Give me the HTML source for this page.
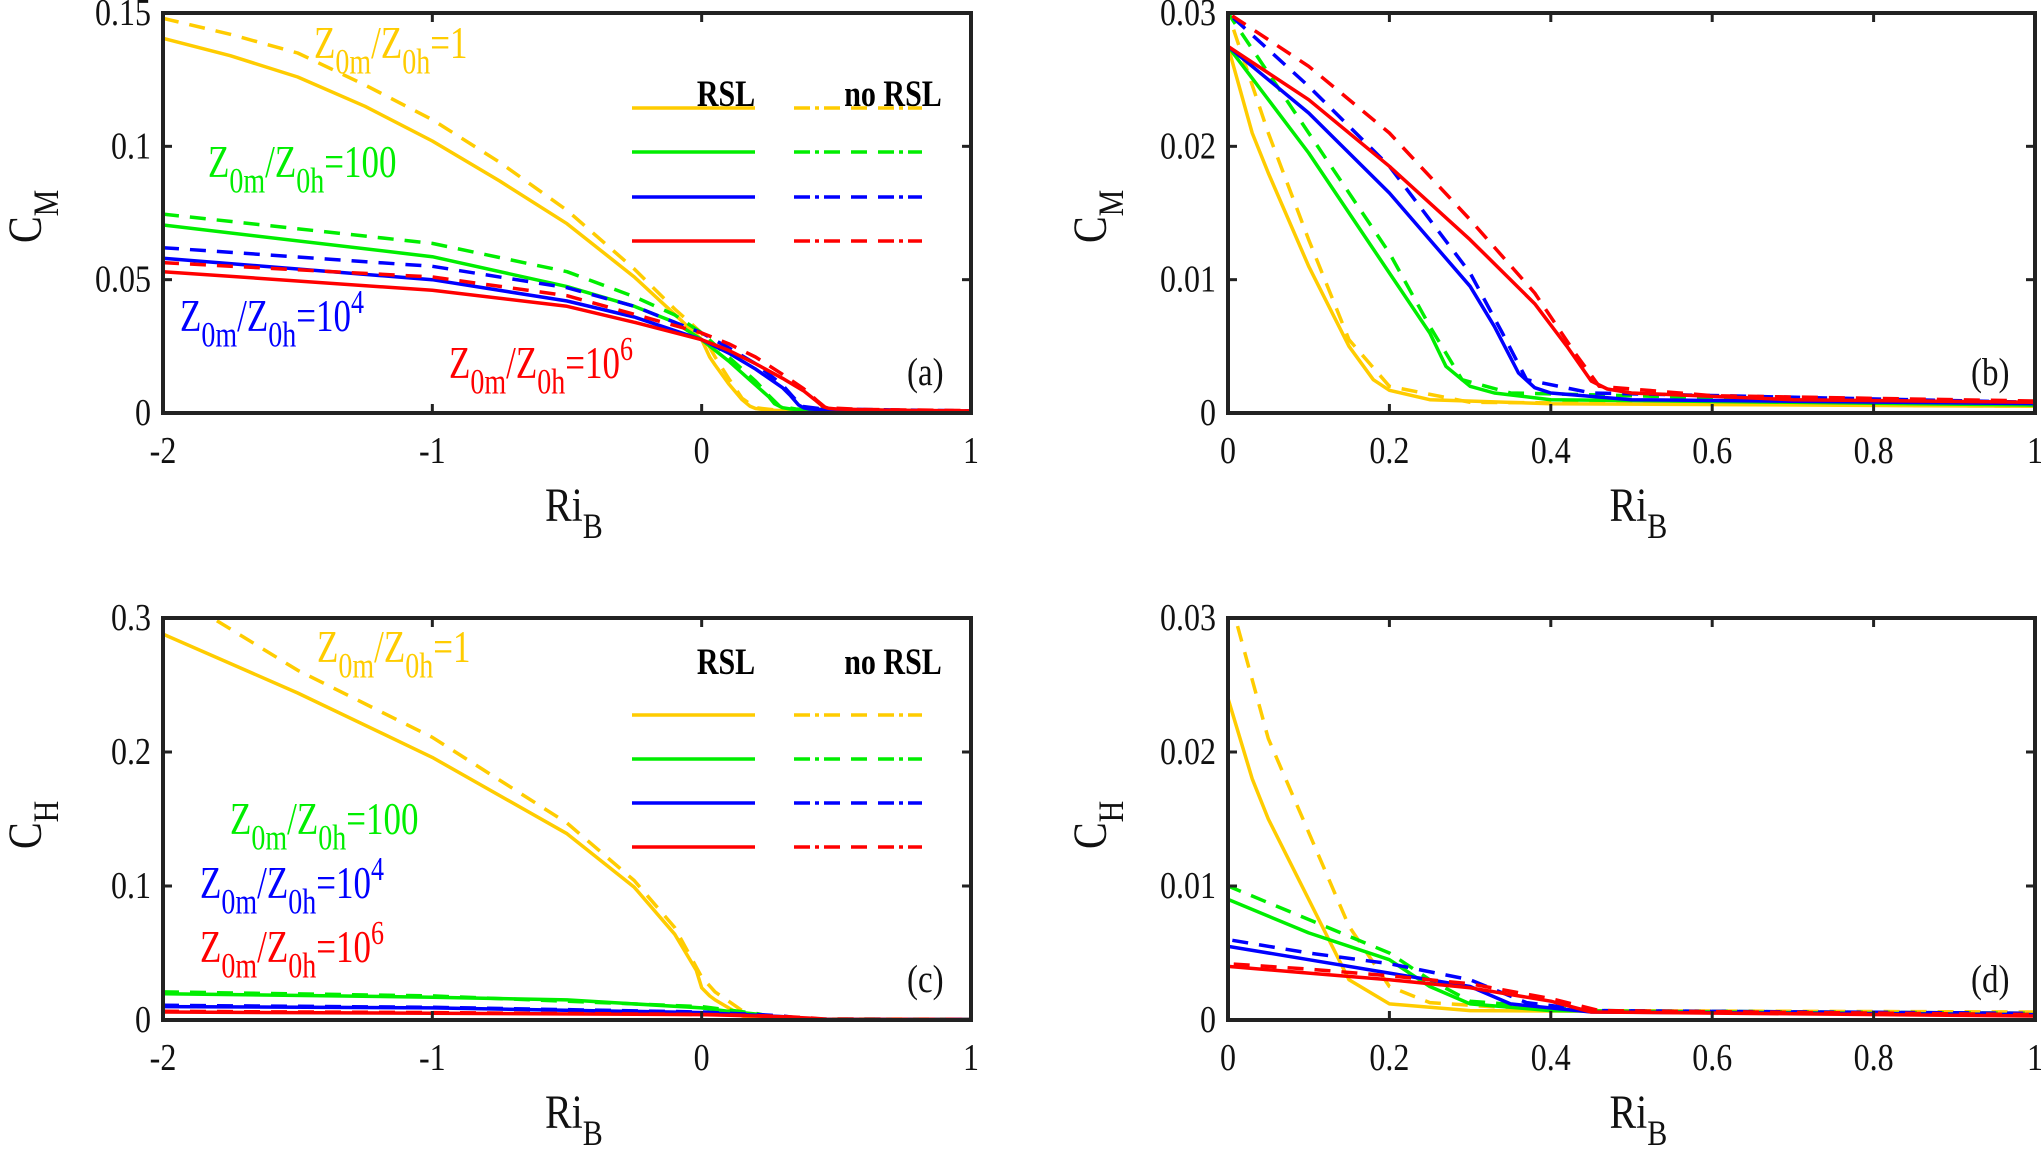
<!DOCTYPE html>
<html><head><meta charset="utf-8"><style>
html,body{margin:0;padding:0;background:#fff}
svg{display:block;font-family:"Liberation Serif",serif}
</style></head><body>
<svg id="fig" width="2041" height="1153" viewBox="0 0 2041 1153" xmlns="http://www.w3.org/2000/svg"></svg>
<script>
// ---- data ----
const seriesNames = ['r1','r100','r1e4','r1e6'];
const seriesColors = ['#FFCC00','#00EE00','#0000FF','#FF0000'];
// C_M, RSL (solid)
const cmSolidX = [
 [-2,-1.75,-1.5,-1.25,-1,-0.75,-0.5,-0.25,-0.1,0,0.03,0.05,0.1,0.15,0.18,0.2,0.25,0.4,1],
 [-2,-1,-0.5,-0.25,-0.1,0,0.1,0.2,0.25,0.27,0.3,0.33,0.4,1],
 [-2,-1,-0.5,-0.25,0,0.1,0.2,0.3,0.33,0.36,0.38,0.4,0.5,1],
 [-2,-1,-0.5,-0.25,0,0.1,0.2,0.3,0.38,0.42,0.45,0.47,0.5,0.7,1]];
const cmSolidY = [
 [0.1405,0.134,0.126,0.115,0.102,0.087,0.071,0.051,0.037,0.0275,0.021,0.018,0.011,0.005,0.0025,0.0017,0.001,0.0007,0.0005],
 [0.0705,0.0586,0.0474,0.040,0.034,0.0275,0.0195,0.0105,0.006,0.0035,0.002,0.0015,0.001,0.0006],
 [0.058,0.050,0.042,0.036,0.0275,0.0225,0.0165,0.0095,0.0065,0.003,0.0019,0.0015,0.001,0.0007],
 [0.053,0.046,0.040,0.034,0.0275,0.0235,0.0185,0.013,0.0082,0.005,0.0024,0.0018,0.0015,0.001,0.0008]];
// C_M, no RSL (dashed)
const cmDashX = [
 [-2,-1.75,-1.5,-1.25,-1,-0.75,-0.5,-0.25,-0.1,0,0.05,0.1,0.15,0.2,0.3,1],
 [-2,-1,-0.5,-0.25,-0.1,0,0.1,0.2,0.25,0.29,0.35,1],
 [-2,-1,-0.5,-0.25,0,0.1,0.2,0.3,0.34,0.37,0.45,1],
 [-2,-1,-0.5,-0.25,0,0.1,0.2,0.3,0.38,0.43,0.46,0.6,1]];
const cmDashY = [
 [0.148,0.142,0.135,0.123,0.110,0.094,0.076,0.054,0.039,0.030,0.021,0.013,0.0055,0.002,0.0008,0.0005],
 [0.0746,0.0636,0.053,0.0436,0.0368,0.030,0.021,0.012,0.0065,0.0025,0.0015,0.0006],
 [0.062,0.055,0.047,0.040,0.030,0.0245,0.0185,0.0105,0.006,0.0025,0.0015,0.0008],
 [0.0564,0.051,0.044,0.037,0.030,0.026,0.021,0.0145,0.009,0.0045,0.002,0.0013,0.0009]];
// C_H, RSL (solid)
const chSolidX = [
 [-2,-1.5,-1,-0.5,-0.25,-0.1,-0.02,0,0.03,0.05,0.1,0.15,0.2,0.3,1],
 [-2,-1,-0.5,0,0.1,0.2,0.25,0.3,0.4,1],
 [-2,-1,0,0.1,0.2,0.3,0.35,0.45,1],
 [-2,-1,0,0.1,0.2,0.3,0.4,0.45,1]];
const chSolidY = [
 [0.288,0.244,0.196,0.139,0.099,0.064,0.037,0.024,0.018,0.015,0.009,0.003,0.0012,0.0007,0.0005],
 [0.0196,0.017,0.015,0.009,0.0065,0.0045,0.0025,0.0012,0.0007,0.0004],
 [0.010,0.009,0.0055,0.0045,0.0035,0.0025,0.0012,0.0006,0.0004],
 [0.006,0.005,0.004,0.0035,0.003,0.0024,0.0014,0.0006,0.0003]];
// C_H, no RSL (dashed)
const chDashX = [
 [-1.8,-1.5,-1,-0.5,-0.25,-0.1,0,0.05,0.1,0.15,0.2,0.25,0.4,1],
 [-2,-1,0,0.1,0.2,0.25,0.3,0.45,1],
 [-2,-1,0,0.1,0.2,0.3,0.37,0.45,1],
 [-2,-1,0,0.1,0.2,0.3,0.4,0.46,1]];
const chDashY = [
 [0.298,0.261,0.211,0.147,0.104,0.069,0.032,0.021,0.014,0.007,0.0025,0.0013,0.0007,0.0006],
 [0.021,0.018,0.010,0.0075,0.005,0.003,0.0014,0.0007,0.0005],
 [0.011,0.0095,0.006,0.005,0.0042,0.003,0.0013,0.0007,0.0005],
 [0.0065,0.0055,0.0042,0.0038,0.0033,0.0027,0.0016,0.0007,0.0004]];
const ticksA = ['-2','-1','0','1'];
const ticksB = ['0','0.2','0.4','0.6','0.8','1'];
const yTicksA = ['0','0.05','0.1','0.15'];
const yTicksB = ['0','0.01','0.02','0.03'];
const yTicksC = ['0','0.1','0.2','0.3'];
const yTicksD = ['0','0.01','0.02','0.03'];

const NS='http://www.w3.org/2000/svg';
const svg=document.getElementById('fig');
function mk(tag,attrs,parent){const e=document.createElementNS(NS,tag);for(const k in attrs)e.setAttribute(k,attrs[k]);(parent||svg).appendChild(e);return e;}
function stretched(x,y,k,attrs,parent){attrs.x=0;attrs.y=0;attrs.transform='translate('+x+','+y+') scale(1,'+k+')';return mk('text',attrs,parent);}

const panels=[
 {id:'a',x0:163,x1:971,y0:13,y1:413,xmin:-2,xmax:1,ymin:0,ymax:0.15,xt:ticksA,yt:yTicksA,sx:cmSolidX,sy:cmSolidY,dx:cmDashX,dy:cmDashY,yl:'M'},
 {id:'b',x0:1228,x1:2035,y0:13,y1:413,xmin:0,xmax:1,ymin:0,ymax:0.03,xt:ticksB,yt:yTicksB,sx:cmSolidX,sy:cmSolidY,dx:cmDashX,dy:cmDashY,yl:'M'},
 {id:'c',x0:163,x1:971,y0:618,y1:1020,xmin:-2,xmax:1,ymin:0,ymax:0.3,xt:ticksA,yt:yTicksC,sx:chSolidX,sy:chSolidY,dx:chDashX,dy:chDashY,yl:'H'},
 {id:'d',x0:1228,x1:2035,y0:618,y1:1020,xmin:0,xmax:1,ymin:0,ymax:0.03,xt:ticksB,yt:yTicksD,sx:chSolidX,sy:chSolidY,dx:chDashX,dy:chDashY,yl:'H'}];

panels.forEach(p=>{
 const g=mk('g',{});
 
 
 const X=v=>p.x0+(v-p.xmin)/(p.xmax-p.xmin)*(p.x1-p.x0);
 const Y=v=>p.y1-(v-p.ymin)/(p.ymax-p.ymin)*(p.y1-p.y0);
 const cp=mk('clipPath',{id:'clip'+p.id},g);
 mk('rect',{x:p.x0,y:p.y0,width:p.x1-p.x0,height:p.y1-p.y0},cp);
 const lg=mk('g',{'clip-path':'url(#clip'+p.id+')'},g);
 for(let s=0;s<4;s++){
  const ds=p.sx[s].map((x,i)=>(i?'L':'M')+X(x).toFixed(1)+','+Y(p.sy[s][i]).toFixed(1)).join('');
  const l1=mk('path',{d:ds,fill:'none',stroke:seriesColors[s],'stroke-width':3.5,'stroke-linejoin':'round'},lg);
  
  
  const dd=p.dx[s].map((x,i)=>(i?'L':'M')+X(x).toFixed(1)+','+Y(p.dy[s][i]).toFixed(1)).join('');
  const l2=mk('path',{d:dd,fill:'none',stroke:seriesColors[s],'stroke-width':3.5,'stroke-dasharray':'16 11','stroke-linejoin':'round'},lg);
  
  
 }
 mk('rect',{x:p.x0,y:p.y0,width:p.x1-p.x0,height:p.y1-p.y0,fill:'none',stroke:'#222','stroke-width':4},g);
 p.xt.forEach(t=>{
  const v=parseFloat(t),x=X(v);
  mk('line',{x1:x,x2:x,y1:p.y1,y2:p.y1-9,stroke:'#222','stroke-width':3},g);
  mk('line',{x1:x,x2:x,y1:p.y0,y2:p.y0+9,stroke:'#222','stroke-width':3},g);
  const tx=stretched(x,p.y1+50,1.2,{'font-size':32,'text-anchor':'middle',fill:'#111'},g);tx.textContent=t;
  
  
 });
 p.yt.forEach(t=>{
  const v=parseFloat(t),y=Y(v);
  mk('line',{x1:p.x0,x2:p.x0+9,y1:y,y2:y,stroke:'#222','stroke-width':3},g);
  mk('line',{x1:p.x1,x2:p.x1-9,y1:y,y2:y,stroke:'#222','stroke-width':3},g);
  const tx=stretched(p.x0-12,y+12,1.2,{'font-size':32,'text-anchor':'end',fill:'#111'},g);tx.textContent=t;
  
  
 });
 const cx=(p.x0+p.x1)/2;
 const xl=stretched(cx-22,p.y1+108,1.2,{'font-size':40,fill:'#111'},g);
 xl.innerHTML='Ri<tspan font-size="30" dy="14">B</tspan>';
 
 
 const ym=(p.y0+p.y1)/2;
 const ylx=p.x0-122;
 const yl=mk('text',{x:0,y:0,'font-size':40,fill:'#111',transform:'translate('+ylx+','+(ym+30)+') rotate(-90) scale(1,1.2)'},g);
 yl.innerHTML='C<tspan font-size="30" dy="14">'+p.yl+'</tspan>';
 
 
 const pl=stretched(p.x1-64,p.y1-28,1.2,{'font-size':33,fill:'#111'},g);pl.textContent='('+p.id+')';
 
 
});

function legend(y0,ys){
 const t1=stretched(726,y0,1.25,{'font-size':30,'font-weight':'bold','text-anchor':'middle',fill:'#000'});t1.textContent='RSL';
 
 
 const t2=stretched(893,y0,1.25,{'font-size':30,'font-weight':'bold','text-anchor':'middle',fill:'#000'});t2.textContent='no RSL';
 
 
 ys.forEach((y,s)=>{
  const a=mk('line',{x1:632,x2:755,y1:y,y2:y,stroke:seriesColors[s],'stroke-width':3.5});
  
  
  const b=mk('line',{x1:794,x2:922,y1:y,y2:y,stroke:seriesColors[s],'stroke-width':3.5,'stroke-dasharray':'16 5 4 5 16 11 16 11'});
  
  
 });
}
legend(106,[108,152,197,241]);
legend(674,[715,759,803,847]);

function ann(x,y,col,val,sup){
 const t=stretched(x,y,1.3,{'font-size':35,fill:col});
 t.innerHTML='Z<tspan font-size="28" dy="12">0m</tspan><tspan dy="-12">/Z</tspan><tspan font-size="28" dy="12">0h</tspan><tspan dy="-12">='+val+'</tspan>'+(sup?'<tspan font-size="26" dy="-14">'+sup+'</tspan>':'');
 
 
}
ann(314,58,'#FFCC00','1');
ann(208,177,'#00EE00','100');
ann(180,331,'#0000FF','10','4');
ann(449,378,'#FF0000','10','6');
ann(317,662,'#FFCC00','1');
ann(230,834,'#00EE00','100');
ann(200,898,'#0000FF','10','4');
ann(200,962,'#FF0000','10','6');
</script>
</body></html>
